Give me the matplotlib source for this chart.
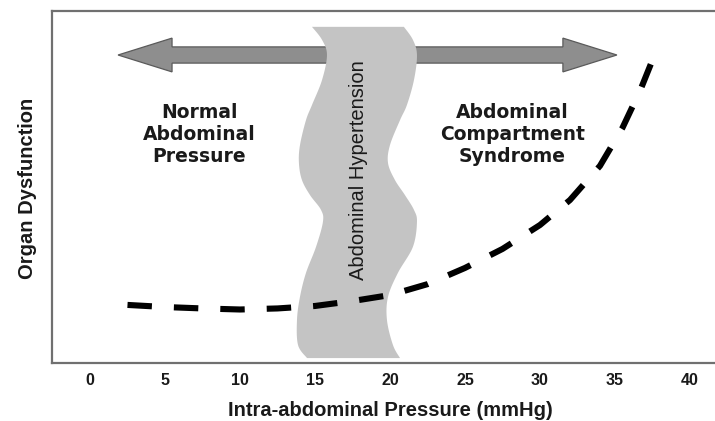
import numpy as np
import matplotlib
matplotlib.use("Agg")
import matplotlib.pyplot as plt
from matplotlib.patches import FancyArrow, Polygon

# ---------------- data ----------------
x_ticks = [0, 5, 10, 15, 20, 25, 30, 35, 40]
x_tick_labels = ["0", "5", "10", "15", "20", "25", "30", "35", "40"]

# organ dysfunction curve (arbitrary 0-100 scale)
curve_x = [2.5, 5, 7.5, 10, 12.5, 15, 17.5, 20, 22.5, 25, 27.5, 30, 32, 34, 35.5, 36.7, 37.9]
curve_y = [16.5, 15.9, 15.5, 15.2, 15.5, 16.2, 17.6, 19.3, 22.4, 27.0, 32.4, 39.2, 46.3, 56.0, 66.8, 77.6, 90.3]

# wavy "abdominal hypertension" band outline
band_y = [95.5, 91.8, 87.5, 80.4, 73.3, 69.0, 61.9, 56.8, 52.0, 47.7, 43.5, 40.1, 33.0, 25.6, 18.8, 12.2, 5.1, 1.4]
band_left = [14.8, 15.47, 15.8, 15.47, 14.8, 14.4, 14.0, 13.93, 14.13, 14.67, 15.4, 15.53, 15.07, 14.4, 14.0, 13.8, 13.87, 14.47]
band_right = [20.93, 21.53, 21.8, 21.6, 21.13, 20.67, 20.0, 19.87, 20.33, 21.0, 21.6, 21.8, 21.53, 20.53, 19.87, 19.8, 20.2, 20.67]

region_labels = ["Normal\nAbdominal\nPressure", "Abdominal\nCompartment\nSyndrome"]
band_label = "Abdominal Hypertension"
x_label = "Intra-abdominal Pressure (mmHg)"
y_label = "Organ Dysfunction"


def smooth(xs, ys, n=12):
    """Catmull-Rom densification of an outline for a smooth shape."""
    xs = np.asarray(xs, float)
    ys = np.asarray(ys, float)
    px = np.concatenate([[xs[0]], xs, [xs[-1]]])
    py = np.concatenate([[ys[0]], ys, [ys[-1]]])
    ox, oy = [], []
    for i in range(1, len(px) - 2):
        t = np.linspace(0, 1, n, endpoint=False)
        for arr, out in ((px, ox), (py, oy)):
            p0, p1, p2, p3 = arr[i - 1], arr[i], arr[i + 1], arr[i + 2]
            out.extend(0.5 * ((2 * p1) + (-p0 + p2) * t
                              + (2 * p0 - 5 * p1 + 4 * p2 - p3) * t ** 2
                              + (-p0 + 3 * p1 - 3 * p2 + p3) * t ** 3))
    ox.append(xs[-1])
    oy.append(ys[-1])
    return np.array(ox), np.array(oy)


fig = plt.figure(figsize=(7.15, 4.21), dpi=100)
ax = fig.add_axes([52 / 715, 58 / 421, 1 - 52 / 715, 352 / 421])
ax.set_xlim(-2.533, 41.67)
ax.set_ylim(0, 100)

# arrows
arrow_kw = dict(width=4.6, head_width=9.6, head_length=3.6, length_includes_head=True,
                facecolor="#8e8e8e", edgecolor="#5a5a5a", linewidth=0.9, zorder=1)
ax.add_patch(FancyArrow(18.5, 87.5, 1.87 - 18.5, 0, **arrow_kw))
ax.add_patch(FancyArrow(18.5, 87.5, 35.13 - 18.5, 0, **arrow_kw))

# band
lx, ly = smooth(band_left, band_y)
rx, ry = smooth(band_right, band_y)
poly = np.vstack([np.column_stack([lx, ly]), np.column_stack([rx[::-1], ry[::-1]])])
ax.add_patch(Polygon(poly, closed=True, facecolor="#c4c4c4", edgecolor="none", zorder=2))

# curve
ax.plot(curve_x, curve_y, color="black", linewidth=4.4, dashes=(4.0, 3.6),
        solid_capstyle="butt", dash_capstyle="butt", zorder=3)

# texts
ax.text(7.27, 64.8, region_labels[0], ha="center", va="center", fontsize=13.5,
        fontweight="bold", family="DejaVu Sans", color="#1a1a1a", linespacing=1.2, zorder=4)
ax.text(28.17, 64.8, region_labels[1], ha="center", va="center", fontsize=13.5,
        fontweight="bold", family="DejaVu Sans", color="#1a1a1a", linespacing=1.2, zorder=4)
ax.text(17.87, 54.8, band_label, ha="center", va="center", rotation=90, fontsize=14.5,
        family="Liberation Sans", color="#1a1a1a", zorder=4)

# axes styling
ax.set_xticks(x_ticks)
ax.set_xticklabels(x_tick_labels, fontsize=11.5, fontweight="bold", family="Liberation Sans",
                   color="#1a1a1a")
ax.set_yticks([])
ax.tick_params(axis="x", length=0, pad=7)
for side in ("left", "top", "bottom"):
    ax.spines[side].set_color("#707070")
    ax.spines[side].set_linewidth(1.6)
ax.spines["right"].set_visible(False)

ax.set_xlabel(x_label, fontsize=14.5, fontweight="bold", family="Liberation Sans", color="#1a1a1a")
ax.xaxis.set_label_coords((390 - 52) / 663, -0.108)
ax.set_ylabel(y_label, fontsize=14.5, fontweight="bold", family="Liberation Sans", color="#1a1a1a")
ax.yaxis.set_label_coords(-0.022, 0.496)

fig.savefig("out.png", dpi=100)
